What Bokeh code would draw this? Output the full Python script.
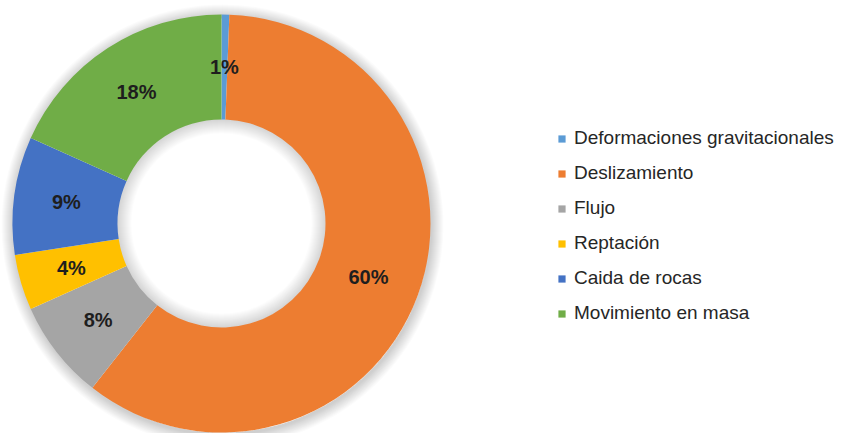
import numpy as np
from bokeh.plotting import figure
from bokeh.models import Range1d, Legend, LegendItem, ColumnDataSource
from bokeh.embed import file_html
from bokeh.resources import INLINE
from bokeh.core.properties import value

# ---- data ----
categories = ["Deformaciones gravitacionales", "Deslizamiento", "Flujo",
              "Reptación", "Caida de rocas", "Movimiento en masa"]
values = [0.6, 60.0, 7.7, 4.3, 9.1, 18.3]
labels = ["1%", "60%", "8%", "4%", "9%", "18%"]
colors = ["#5B9BD5", "#ED7D31", "#A5A5A5", "#FFC000", "#4472C4", "#70AD47"]

# ---- layout ----
W, H = 852, 433
cx, cy = 221, H - 223
R_out, R_in = 209, 104

frac = np.array(values) / sum(values)
cum = np.concatenate([[0.0], np.cumsum(frac)])
start = np.pi / 2 - 2 * np.pi * cum[:-1]
end = np.pi / 2 - 2 * np.pi * cum[1:]
mid = (start + end) / 2
rm = (R_in + R_out) / 2

src = ColumnDataSource(dict(
    cat=categories, val=values, lab=labels, color=colors,
    start=start, end=end,
    lx=cx + rm * np.cos(mid), ly=cy + rm * np.sin(mid),
))

p = figure(width=W, height=H, output_backend="svg", toolbar_location=None,
           x_range=Range1d(0, W), y_range=Range1d(0, H), min_border=0)
p.axis.visible = False
p.grid.visible = False
p.outline_line_color = None
p.background_fill_color = "white"
p.border_fill_color = "white"

# soft shadow (outer glow and inner-hole shade)
for k in range(1, 13):
    p.annulus(x=cx + 1, y=cy - 2, inner_radius=R_out - 2, outer_radius=R_out + k,
              fill_color="black", fill_alpha=0.016, line_color=None)
for k in range(1, 15):
    p.annulus(x=cx, y=cy, inner_radius=R_in - k, outer_radius=R_in + 1,
              fill_color="black", fill_alpha=0.012, line_color=None)

r = p.annular_wedge(x=cx, y=cy, inner_radius=R_in, outer_radius=R_out,
                    start_angle="start", end_angle="end", direction="clock",
                    fill_color="color", line_color=None, source=src)

p.text(x="lx", y="ly", text="lab", source=src, text_align="center",
       text_baseline="middle", text_font=value("Liberation Sans"),
       text_font_style="bold", text_font_size="20px", text_color="#1e1e1e")

legend = Legend(items=[LegendItem(label=c, renderers=[r], index=i)
                       for i, c in enumerate(categories)],
                location=(557, 109), orientation="vertical")
legend.label_text_font = "Liberation Sans"
legend.label_text_font_size = "19px"
legend.label_text_color = "#262626"
legend.glyph_width = 9
legend.glyph_height = 9
legend.label_height = 22
legend.spacing = 13
legend.padding = 0
legend.margin = 0
legend.label_standoff = 8
legend.border_line_color = None
legend.background_fill_alpha = 0
p.add_layout(legend)

open("out.html", "w").write(file_html(p, INLINE))
